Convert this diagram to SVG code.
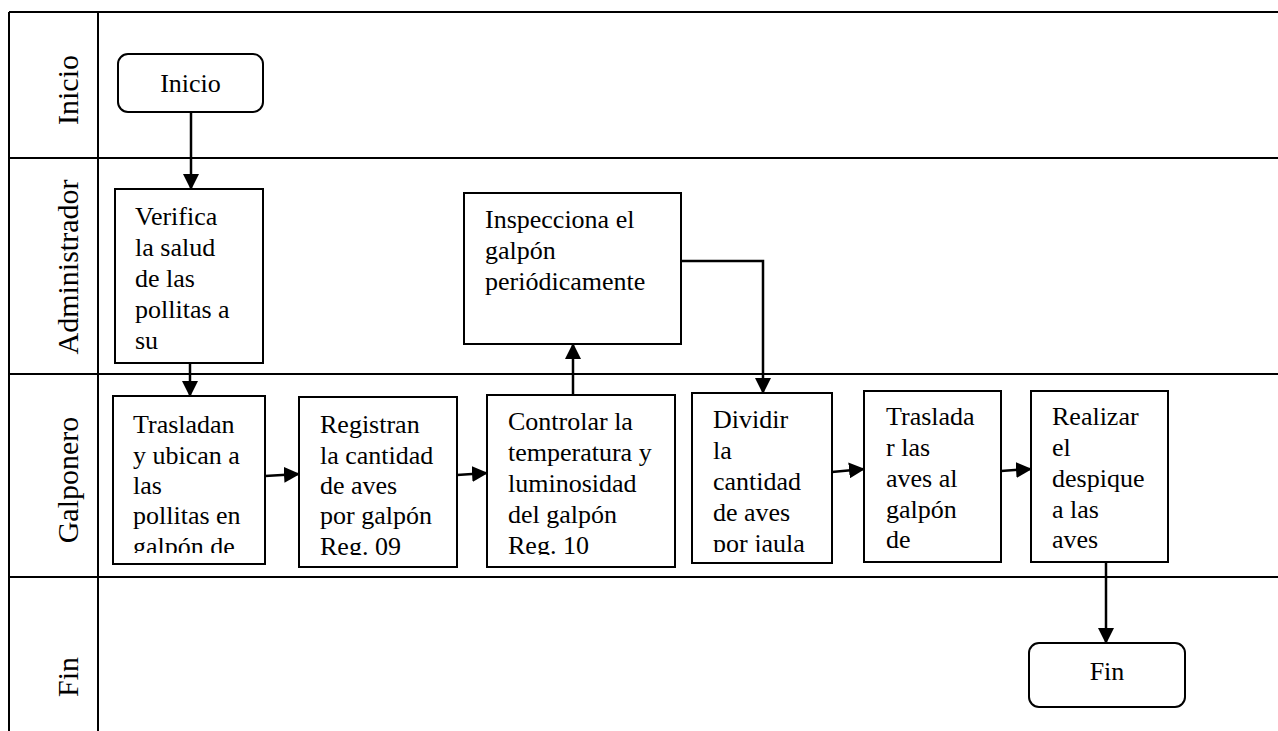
<svg xmlns="http://www.w3.org/2000/svg" width="1278" height="731" viewBox="0 0 1278 731">
<style>
.lane{stroke:#000;stroke-width:2;fill:none}
.box{fill:#fff;stroke:#000;stroke-width:2}
.t{font-family:'Liberation Serif','DejaVu Serif',serif;font-size:26px;fill:#000}
.lbl{font-family:'Liberation Serif','DejaVu Serif',serif;font-size:30px;fill:#000;text-anchor:middle}
.c{stroke:#000;stroke-width:2.5;fill:none}
</style>
<defs>
<marker id="ah" markerWidth="16" markerHeight="16" viewBox="0 0 16 16" refX="15" refY="8" orient="auto" markerUnits="userSpaceOnUse">
<path d="M0,0 L16,8 L0,16 Z" fill="#000"/>
</marker>
<clipPath id="c1"><rect x="113" y="396" width="152" height="157"/></clipPath>
<clipPath id="c2"><rect x="299" y="397" width="158" height="158"/></clipPath>
<clipPath id="c3"><rect x="487" y="395" width="188" height="160"/></clipPath>
<clipPath id="c4"><rect x="692" y="393" width="140" height="159"/></clipPath>
</defs>
<rect width="1278" height="731" fill="#fff"/>
<g id="lanes">
<line class="lane" x1="9" y1="12" x2="1278" y2="12"/>
<line class="lane" x1="9" y1="158" x2="1278" y2="158"/>
<line class="lane" x1="9" y1="374" x2="1278" y2="374"/>
<line class="lane" x1="9" y1="577" x2="1278" y2="577"/>
<line class="lane" x1="9" y1="12" x2="9" y2="731"/>
<line class="lane" x1="98" y1="12" x2="98" y2="731"/>
<text class="lbl" transform="translate(78,90) rotate(-90)">Inicio</text>
<text class="lbl" transform="translate(78,267) rotate(-90)">Administrador</text>
<text class="lbl" transform="translate(78,480) rotate(-90)">Galponero</text>
<text class="lbl" transform="translate(78,677) rotate(-90)">Fin</text>
</g>
<g id="connectors">
<line class="c" x1="191" y1="112" x2="191" y2="189" marker-end="url(#ah)"/>
<line class="c" x1="190" y1="363" x2="190" y2="396" marker-end="url(#ah)"/>
<line class="c" x1="265" y1="476" x2="299" y2="474" marker-end="url(#ah)"/>
<line class="c" x1="457" y1="475" x2="487" y2="473" marker-end="url(#ah)"/>
<line class="c" x1="573" y1="395" x2="573" y2="344" marker-end="url(#ah)"/>
<polyline class="c" points="681,261 763,261 763,393" marker-end="url(#ah)"/>
<line class="c" x1="832" y1="472" x2="864" y2="469" marker-end="url(#ah)"/>
<line class="c" x1="1001" y1="471" x2="1031" y2="469" marker-end="url(#ah)"/>
<line class="c" x1="1106" y1="562" x2="1106" y2="643" marker-end="url(#ah)"/>
</g>
<g id="n-inicio">
<rect class="box" x="118" y="54" width="145" height="58" rx="10"/>
<text class="t" x="190.5" y="92" text-anchor="middle">Inicio</text>
</g>
<g id="n-verifica">
<rect class="box" x="115" y="189" width="148" height="174"/>
<text class="t"><tspan x="135" y="225">Verifica</tspan><tspan x="135" y="256">la salud</tspan><tspan x="135" y="287">de las</tspan><tspan x="135" y="318">pollitas a</tspan><tspan x="135" y="349">su</tspan></text>
</g>
<g id="n-inspecciona">
<rect class="box" x="464" y="193" width="217" height="151"/>
<text class="t"><tspan x="485" y="228">Inspecciona el</tspan><tspan x="485" y="259">galpón</tspan><tspan x="485" y="290">periódicamente</tspan></text>
</g>
<g id="n-trasladan">
<rect class="box" x="113" y="396" width="152" height="168"/>
<text class="t" clip-path="url(#c1)"><tspan x="133" y="433">Trasladan</tspan><tspan x="133" y="464">y ubican a</tspan><tspan x="133" y="494">las</tspan><tspan x="133" y="524">pollitas en</tspan><tspan x="133" y="555">galpón de</tspan></text>
</g>
<g id="n-registran">
<rect class="box" x="299" y="397" width="158" height="170"/>
<text class="t" clip-path="url(#c2)"><tspan x="320" y="433">Registran</tspan><tspan x="320" y="464">la cantidad</tspan><tspan x="320" y="494">de aves</tspan><tspan x="320" y="524">por galpón</tspan><tspan x="320" y="555">Reg. 09</tspan></text>
</g>
<g id="n-controlar">
<rect class="box" x="487" y="395" width="188" height="172"/>
<text class="t" clip-path="url(#c3)"><tspan x="508" y="430">Controlar la</tspan><tspan x="508" y="461">temperatura y</tspan><tspan x="508" y="492">luminosidad</tspan><tspan x="508" y="523">del galpón</tspan><tspan x="508" y="554">Reg. 10</tspan></text>
</g>
<g id="n-dividir">
<rect class="box" x="692" y="393" width="140" height="170"/>
<text class="t" clip-path="url(#c4)"><tspan x="713" y="428">Dividir</tspan><tspan x="713" y="459">la</tspan><tspan x="713" y="490">cantidad</tspan><tspan x="713" y="521">de aves</tspan><tspan x="713" y="552">por jaula</tspan></text>
</g>
<g id="n-traslada">
<rect class="box" x="864" y="391" width="137" height="171"/>
<text class="t"><tspan x="886" y="425">Traslada</tspan><tspan x="886" y="456">r las</tspan><tspan x="886" y="487">aves al</tspan><tspan x="886" y="518">galpón</tspan><tspan x="886" y="548">de</tspan></text>
</g>
<g id="n-realizar">
<rect class="box" x="1031" y="391" width="137" height="171"/>
<text class="t"><tspan x="1052" y="425">Realizar</tspan><tspan x="1052" y="456">el</tspan><tspan x="1052" y="487">despique</tspan><tspan x="1052" y="518">a las</tspan><tspan x="1052" y="548">aves</tspan></text>
</g>
<g id="n-fin">
<rect class="box" x="1029" y="643" width="156" height="64" rx="10"/>
<text class="t" x="1107" y="680" text-anchor="middle">Fin</text>
</g>
</svg>
